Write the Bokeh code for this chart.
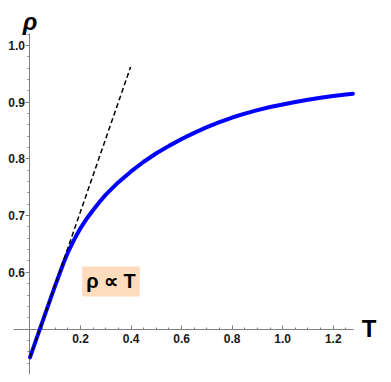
from bokeh.plotting import figure
from bokeh.models import Label, FixedTicker, Range1d, PrintfTickFormatter
from bokeh.embed import file_html
from bokeh.resources import INLINE

# Curve rho(T)
T_curve = [0.0, 0.04, 0.08, 0.10, 0.12, 0.135, 0.15, 0.165, 0.18, 0.20, 0.225, 0.25, 0.275,
           0.30, 0.35, 0.40, 0.45, 0.50, 0.55, 0.60, 0.65, 0.70, 0.75, 0.80, 0.85,
           0.90, 0.95, 1.00, 1.05, 1.10, 1.15, 1.20, 1.25, 1.278]
rho_curve = [0.450, 0.501, 0.552, 0.577, 0.601, 0.619, 0.635, 0.649, 0.662, 0.678, 0.695, 0.710, 0.724,
             0.737, 0.759, 0.778, 0.795, 0.810, 0.823, 0.835, 0.846, 0.856, 0.865, 0.873, 0.880,
             0.886, 0.8915, 0.896, 0.9005, 0.9045, 0.908, 0.911, 0.9135, 0.915]

# Dashed tangent line
T_tangent = [0.0, 0.398]
rho_tangent = [0.450, 0.962]

# Ticks
x_major = [0.2, 0.4, 0.6, 0.8, 1.0, 1.2]
x_minor = [0.05, 0.1, 0.15, 0.25, 0.3, 0.35, 0.45, 0.5, 0.55, 0.65, 0.7, 0.75,
           0.85, 0.9, 0.95, 1.05, 1.1, 1.15, 1.25]
y_major = [0.6, 0.7, 0.8, 0.9, 1.0]
y_minor = [0.44, 0.46, 0.48, 0.52, 0.54, 0.56, 0.58, 0.62, 0.64, 0.66, 0.68,
           0.72, 0.74, 0.76, 0.78, 0.82, 0.84, 0.86, 0.88, 0.92, 0.94, 0.96, 0.98, 1.02]

# Plot (axis) extents
x_axis_bounds = (-0.0653, 1.2802)
y_axis_bounds = (0.4198, 1.0212)

annotation_text = "ρ ∝ T"
x_label = "T"
y_label = "ρ"

p = figure(width=390, height=378,
           x_range=Range1d(-0.1167, 1.4187), y_range=Range1d(0.4198, 1.0794),
           output_backend="svg", toolbar_location=None,
           min_border_left=0, min_border_right=2, min_border_top=0, min_border_bottom=4)
p.outline_line_color = None
p.xgrid.visible = False
p.ygrid.visible = False

p.line(T_curve, rho_curve, line_color="#0000FF", line_width=4, line_join="round", line_cap="round")
p.line(T_tangent, rho_tangent, line_color="black", line_width=1.5, line_dash="5 3")

axis_color = "#808080"
label_color = "#1a1a1a"

xa = p.xaxis[0]
xa.fixed_location = 0.5
xa.bounds = x_axis_bounds
xa.ticker = FixedTicker(ticks=x_major, minor_ticks=x_minor)
xa.formatter = PrintfTickFormatter(format="%.1f")
xa.axis_line_color = axis_color
xa.major_tick_line_color = axis_color
xa.minor_tick_line_color = axis_color
xa.major_tick_in = 4
xa.major_tick_out = 0
xa.minor_tick_in = 2
xa.minor_tick_out = 0
xa.major_label_standoff = 5
xa.major_label_text_font = "Liberation Sans"
xa.major_label_text_font_style = "bold"
xa.major_label_text_font_size = "12px"
xa.major_label_text_color = label_color
xa.level = "underlay"

ya = p.yaxis[0]
ya.fixed_location = 0.0
ya.bounds = y_axis_bounds
ya.ticker = FixedTicker(ticks=y_major, minor_ticks=y_minor)
ya.formatter = PrintfTickFormatter(format="%.1f")
ya.axis_line_color = axis_color
ya.major_tick_line_color = axis_color
ya.minor_tick_line_color = axis_color
ya.major_tick_in = 0
ya.major_tick_out = 4
ya.minor_tick_in = 0
ya.minor_tick_out = 2
ya.major_label_standoff = 1
ya.major_label_text_font = "Liberation Sans"
ya.major_label_text_font_style = "bold"
ya.major_label_text_font_size = "12px"
ya.major_label_text_color = label_color
ya.level = "underlay"

p.add_layout(Label(x=0.3205, y=0.584, text=annotation_text, text_font="Liberation Sans",
                   text_font_size="20px", text_font_style="bold", text_color="black",
                   text_align="center", text_baseline="middle",
                   background_fill_color="#FFDCBE", padding=4))
p.add_layout(Label(x=1.342, y=0.501, text=x_label, text_font="Liberation Sans",
                   text_font_size="24px", text_font_style="bold", text_color="black",
                   text_align="center", text_baseline="middle"))
p.add_layout(Label(x=0.0, y=1.042, text=y_label, text_font="Liberation Sans",
                   text_font_size="24px", text_font_style="bold italic", text_color="black",
                   text_align="center", text_baseline="middle"))

open("out.html", "w").write(file_html(p, INLINE))
